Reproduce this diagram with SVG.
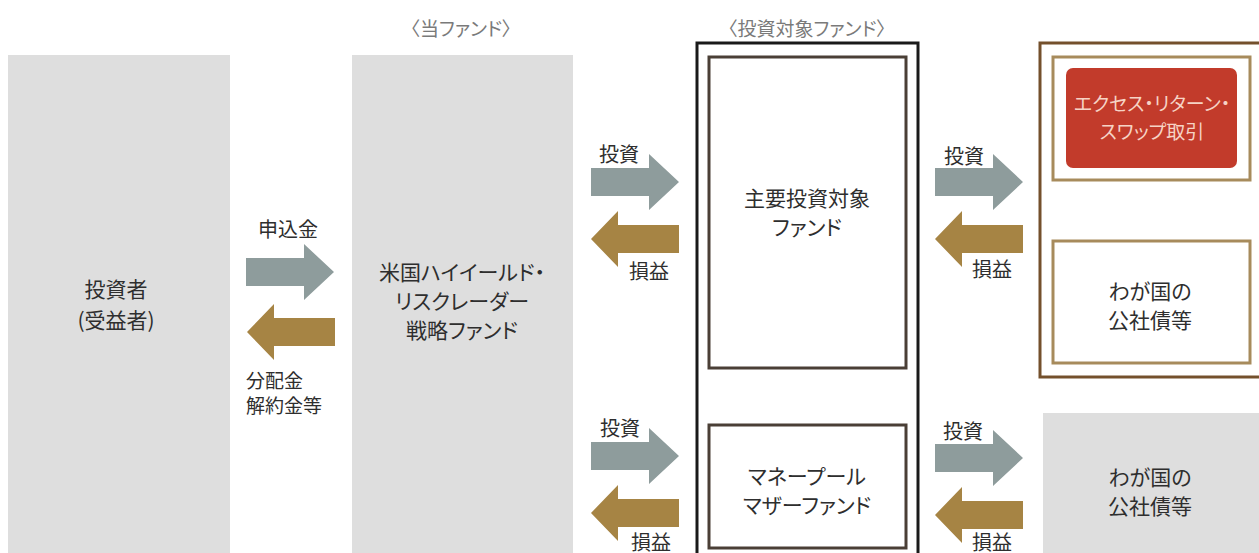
<svg xmlns="http://www.w3.org/2000/svg" xmlns:xlink="http://www.w3.org/1999/xlink" width="1259" height="553" viewBox="0 0 1259 553">
<style>
text{font-family:"Noto Sans CJK JP","Noto Sans",sans-serif;fill:#2e2e2e;dominant-baseline:central;font-feature-settings:"palt"}
.n{font-size:21px;text-anchor:middle}
.l{font-size:20px;text-anchor:middle}
.ls{font-size:19px;text-anchor:start}
.h{font-size:19px;fill:#7a7a7a;text-anchor:middle}
.w{font-size:19px;fill:#f6d3c5;text-anchor:middle}
.gray{fill:#dedede}
.ga{fill:#8e9c9c}
.au{fill:#a68444}
</style>
<defs>
<path id="ar" d="M0,-14 H58 V-28 L88,0 L58,28 V14 H0 Z"/>
<path id="al" d="M0,0 L27,-28 V-14 H88 V14 H27 V28 Z"/>
</defs>
<rect width="1259" height="553" fill="#ffffff"/>

<text class="h" x="461" y="27">〈当ファンド〉</text>
<text class="h" x="807" y="27">〈投資対象ファンド〉</text>

<g id="investor">
<rect class="gray" x="8" y="55" width="222" height="500"/>
<text class="n" x="116" y="288">投資者</text>
<text class="n" x="116" y="319">(受益者)</text>
</g>

<g id="this-fund">
<rect class="gray" x="352" y="55" width="221" height="500"/>
<text class="n" x="462" y="271">米国ハイイールド・</text>
<text class="n" x="462" y="300">リスクレーダー</text>
<text class="n" x="462" y="329">戦略ファンド</text>
</g>

<g id="target-funds">
<rect x="697" y="43" width="221" height="520" fill="none" stroke="#1a1a1a" stroke-width="3"/>
</g>
<g id="main-fund">
<rect x="709" y="57" width="197" height="311" fill="#fff" stroke="#4a3f36" stroke-width="3"/>
<text class="n" x="807" y="197">主要投資対象</text>
<text class="n" x="807" y="226">ファンド</text>
</g>
<g id="money-pool">
<rect x="709" y="425" width="197" height="123" fill="#fff" stroke="#4a3f36" stroke-width="3"/>
<text class="n" x="807" y="475">マネープール</text>
<text class="n" x="807" y="504">マザーファンド</text>
</g>

<g id="main-fund-assets">
<rect x="1040" y="43" width="222" height="334" fill="#fff" stroke="#74502c" stroke-width="3"/>
</g>
<g id="ers-box">
<rect x="1053" y="57" width="197" height="123" fill="#fff" stroke="#a78b5c" stroke-width="3"/>
<rect x="1066" y="68" width="171" height="100" rx="7" fill="#c23b2b"/>
<text class="w" x="1152" y="102">エクセス・リターン・</text>
<text class="w" x="1152" y="130">スワップ取引</text>
</g>
<g id="bonds-1">
<rect x="1053" y="241" width="197" height="122" fill="#fff" stroke="#a78b5c" stroke-width="3"/>
<text class="n" x="1150" y="290">わが国の</text>
<text class="n" x="1150" y="319">公社債等</text>
</g>
<g id="bonds-2">
<rect class="gray" x="1043" y="413" width="220" height="142"/>
<text class="n" x="1150" y="476">わが国の</text>
<text class="n" x="1150" y="505">公社債等</text>
</g>

<g id="connectors">
<use xlink:href="#ar" class="ga" x="246" y="272"/>
<use xlink:href="#al" class="au" x="247" y="332"/>
<text class="l" x="288" y="228">申込金</text>
<text class="ls" x="246" y="379">分配金</text>
<text class="ls" x="246" y="404">解約金等</text>

<use xlink:href="#ar" class="ga" x="591" y="182"/>
<use xlink:href="#al" class="au" x="591" y="239"/>
<text class="l" x="619" y="153">投資</text>
<text class="l" x="649" y="270">損益</text>

<use xlink:href="#ar" class="ga" x="591" y="456"/>
<use xlink:href="#al" class="au" x="591" y="513"/>
<text class="l" x="620" y="427">投資</text>
<text class="l" x="651" y="541">損益</text>

<use xlink:href="#ar" class="ga" x="935" y="182"/>
<use xlink:href="#al" class="au" x="935" y="239"/>
<text class="l" x="964" y="155">投資</text>
<text class="l" x="992" y="268">損益</text>

<use xlink:href="#ar" class="ga" x="935" y="458"/>
<use xlink:href="#al" class="au" x="935" y="515"/>
<text class="l" x="963" y="430">投資</text>
<text class="l" x="992" y="541">損益</text>
</g>
</svg>
